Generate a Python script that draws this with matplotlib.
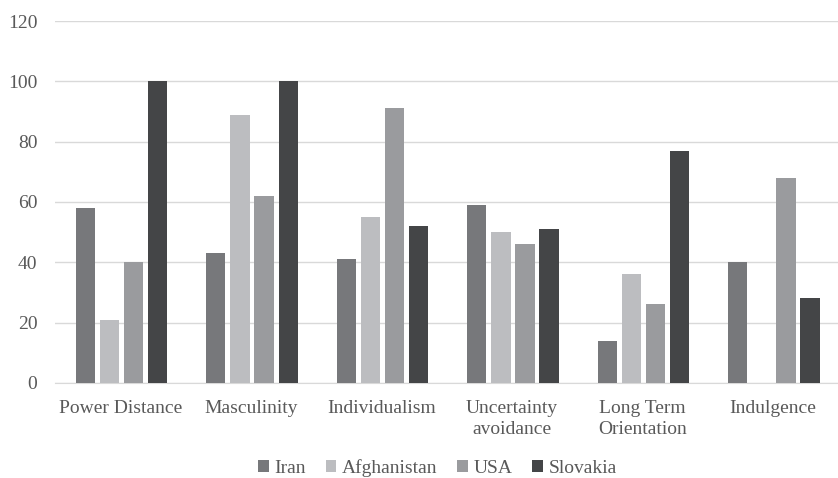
import numpy as np
import matplotlib.pyplot as plt

plt.rcParams['font.family'] = 'serif'
plt.rcParams['font.serif'] = ['Liberation Serif', 'DejaVu Serif']

categorias = ["Power Distance", "Masculinity", "Individualism",
              "Uncertainty\navoidance", "Long Term\nOrientation", "Indulgence"]
paises = ["Iran", "Afghanistan", "USA", "Slovakia"]
iran = [58, 43, 41, 59, 14, 40]
afeganistao = [21, 89, 55, 50, 36, 0]
eua = [40, 62, 91, 46, 26, 68]
eslovaquia = [100, 100, 52, 51, 77, 28]
cores = ["#77787b", "#bcbdc0", "#9a9b9e", "#444547"]

series = [iran, afeganistao, eua, eslovaquia]

fig = plt.figure(figsize=(8.38, 4.78), dpi=100)
ax = fig.add_axes([0.066, 0.199, 0.934, 0.757])

x = np.arange(len(categorias))
passo = 0.185
for i, (nome, vals, cor) in enumerate(zip(paises, series, cores)):
    ax.bar(x + (i - 1.5) * passo + 0.008, vals, width=passo * 0.8, color=cor,
           label=nome, zorder=3)

ax.set_xlim(-0.5, len(categorias) - 0.5)
ax.set_ylim(0, 120)
ax.set_yticks(range(0, 121, 20))
ax.yaxis.grid(True, color="#d9d9d9", linewidth=1)
ax.set_axisbelow(True)
for s in ["top", "right", "left"]:
    ax.spines[s].set_visible(False)
ax.spines["bottom"].set_color("#d9d9d9")
ax.tick_params(axis="both", length=0, labelsize=14, colors="#595959")
ax.tick_params(axis="x", pad=12)
ax.tick_params(axis="y", pad=13)
ax.set_xticks(x)
ax.set_xticklabels(categorias, linespacing=1.35)

fig.legend(loc="lower center", bbox_to_anchor=(0.522, -0.035), ncol=4, frameon=False,
           fontsize=14, handlelength=0.55, handleheight=0.55, handletextpad=0.3,
           columnspacing=1.0, labelcolor="#595959")

fig.savefig("out.png", dpi=100)
